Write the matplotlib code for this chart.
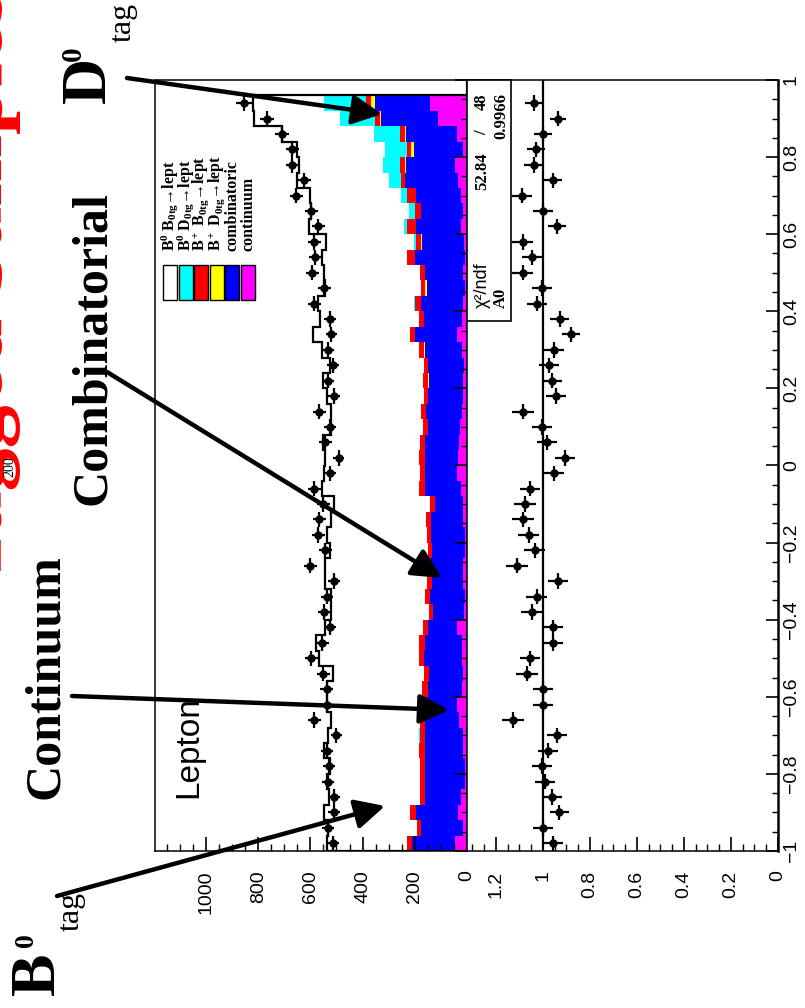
import numpy as np
import matplotlib
matplotlib.use("Agg")
import matplotlib.pyplot as plt
from matplotlib.patches import Rectangle, FancyArrowPatch
from matplotlib.ticker import MultipleLocator, FuncFormatter

W, H = 805, 1008

# cos(theta) binning: 50 bins from -1 to 1, the last one is empty
cos_lo, cos_hi, n_bins = -1.0, 1.0, 50

# stacked MC components per bin (bottom of stack first)
continuum = [46, 17, 36, 24, 8, 8, 17, 14, 30, 40,
             20, 14, 20, 20, 40, 10, 8, 14, 14, 8,
             8, 17, 14, 24, 40, 33, 31, 27, 20, 17,
             14, 10, 20, 37, 20, 17, 8, 14, 8, 10,
             23, 17, 23, 33, 46, 17, 40, 110, 142, 0]
combinatoric = [164, 158, 161, 138, 154, 151, 145, 145, 132, 122,
                131, 132, 144, 142, 109, 119, 134, 119, 141, 125,
                130, 121, 109, 138, 120, 127, 129, 124, 138, 132,
                132, 139, 142, 163, 144, 158, 147, 145, 192, 161,
                174, 158, 174, 205, 186, 187, 195, 219, 212, 0]
bplus_d0tag = [0, 0, 0, 0, 0, 0, 0, 0, 0, 0,
               0, 0, 0, 0, 0, 0, 0, 0, 0, 0,
               0, 0, 0, 0, 0, 0, 0, 0, 0, 0,
               5, 0, 2, 0, 0, 0, 6, 0, 0, 4,
               0, 0, 0, 0, 6, 9, 3, 6, 13, 0]
bplus_b0tag = [18, 16, 22, 19, 19, 22, 21, 22, 19, 23,
               21, 18, 19, 21, 19, 16, 20, 22, 19, 18,
               17, 20, 19, 21, 21, 23, 21, 17, 19, 15,
               17, 15, 21, 19, 21, 25, 16, 22, 28, 22,
               31, 25, 31, 16, 20, 15, 20, 19, 19, 0]
b0_d0tag = [0, 0, 0, 0, 0, 0, 0, 3, 0, 0,
            0, 0, 0, 0, 0, 0, 0, 0, 0, 0,
            0, 0, 0, 0, 0, 0, 0, 0, 0, 0,
            0, 0, 0, 0, 0, 3, 0, 0, 0, 6,
            13, 23, 26, 45, 64, 87, 100, 134, 160, 0]
b0_b0tag = [307, 340, 327, 348, 355, 344, 363, 348, 339, 353,
            366, 351, 382, 396, 377, 376, 359, 388, 371, 373,
            382, 363, 369, 371, 368, 360, 370, 353, 344, 374,
            384, 362, 372, 371, 379, 367, 367, 365, 327, 336,
            364, 373, 346, 352, 321, 335, 350, 329, 275, 0]

# data (first 49 bins) and data/MC ratio
data_counts = [512, 531, 508, 508, 531, 527, 535, 500, 585, 538,
               538, 550, 596, 554, 523, 546, 535, 508, 600, 542,
               569, 565, 550, 585, 523, 492, 542, 523, 565, 508,
               531, 512, 531, 519, 523, 585, 546, 592, 581, 585,
               569, 596, 654, 623, 669, 669, 708, 765, 854]
data_ratio = [0.957, 1.0, 0.93, 0.96, 0.99, 1.004, 0.98, 0.94, 1.128, 1.0,
              1.0, 1.068, 1.055, 0.957, 0.957, 1.047, 1.026, 0.936, 1.11, 1.034,
              1.06, 1.085, 1.077, 1.055, 0.953, 0.906, 0.983, 1.004, 1.085, 0.945,
              0.962, 0.974, 0.953, 0.88, 0.928, 1.026, 1.004, 1.085, 1.047, 1.085,
              0.94, 1.0, 1.09, 0.957, 1.04, 1.03, 1.0, 0.936, 1.04]

legend_labels = ["B$^0$ B$_{0tg}$\u2192lept",
                 "B$^0$ D$_{0tg}$\u2192lept",
                 "B$^+$ B$_{0tg}$\u2192lept",
                 "B$^+$ D$_{0tg}$\u2192lept",
                 "combinatoric", "continuum"]
legend_colors = ["white", "cyan", "red", "yellow", "blue", "magenta"]

chi2_txt, ndf_txt, a0_txt = "52.84", "48", "0.9966"

plt.rcParams["font.family"] = ["Liberation Sans", "DejaVu Sans"]
plt.rcParams["mathtext.fontset"] = "custom"
plt.rcParams["mathtext.rm"] = "Liberation Serif:bold"
plt.rcParams["mathtext.it"] = "Liberation Serif:bold"
plt.rcParams["mathtext.bf"] = "Liberation Serif:bold"
SERIF = ["Liberation Serif", "DejaVu Serif"]


def fx(px):
    return px / W


def fy(py):
    return 1 - py / H


fig = plt.figure(figsize=(W / 100, H / 100), dpi=100)
ax = fig.add_axes([fx(155), fy(851), (467 - 155) / W, (851 - 80) / H])
rx = fig.add_axes([fx(467), fy(851), (778 - 467) / W, (851 - 80) / H])

edges = np.linspace(cos_lo, cos_hi, n_bins + 1)
centers = 0.5 * (edges[:-1] + edges[1:])
bw = edges[1] - edges[0]

# stacked histogram, drawn sideways
stack = [(continuum, "magenta"), (combinatoric, "blue"), (bplus_d0tag, "yellow"),
         (bplus_b0tag, "red"), (b0_d0tag, "cyan"), (b0_b0tag, "white")]
left = np.zeros(n_bins)
for vals, col in stack:
    v = np.asarray(vals, float)
    ax.barh(edges[:-1], v, height=bw, left=left, align="edge", color=col,
            linewidth=0, antialiased=False, zorder=1)
    left += v
ax.stairs(left, edges, orientation="horizontal", color="k", lw=1.6, zorder=2)

d = np.asarray(data_counts, float)
nd = len(d)
ax.errorbar(d, centers[:nd], xerr=np.sqrt(d), yerr=bw / 2, fmt="o", color="k",
            ms=5, elinewidth=1.6, capsize=0, zorder=3)

r = np.asarray(data_ratio, float)
rx.axvline(1.0, color="k", lw=1.6, zorder=1)
rx.errorbar(r, centers[:nd], xerr=r / np.sqrt(d), yerr=bw / 2, fmt="o", color="k",
            ms=5, elinewidth=1.6, capsize=0, zorder=3)

ax.set_xlim(1195, 0)
rx.set_xlim(1.323, 0)


def fmt(v, pos):
    s = f"{round(v, 6) + 0.0:g}"
    return s.replace("-", "\u2212")


for a, major, minor in [(ax, 200, 50), (rx, 0.2, 0.05)]:
    a.set_ylim(cos_lo, cos_hi)
    a.xaxis.set_major_locator(MultipleLocator(major))
    a.xaxis.set_minor_locator(MultipleLocator(minor))
    a.xaxis.set_major_formatter(FuncFormatter(fmt))
    a.yaxis.set_major_locator(MultipleLocator(0.2))
    a.yaxis.set_minor_locator(MultipleLocator(0.05))
    a.yaxis.set_major_formatter(FuncFormatter(fmt))
    a.tick_params(axis="x", which="both", direction="in", bottom=True, top=False,
                  labelsize=14, pad=14, labelrotation=90)
    a.tick_params(axis="x", which="major", length=10, width=1.2)
    a.tick_params(axis="x", which="minor", length=5, width=1.0)
    a.tick_params(axis="y", which="both", direction="in", left=False, right=True,
                  labelleft=False, labelright=False)
    a.tick_params(axis="y", which="major", length=9, width=1.2)
    a.tick_params(axis="y", which="minor", length=4.5, width=1.0)
    for sp in a.spines.values():
        sp.set_linewidth(1.1)

rx.tick_params(axis="y", which="major", labelright=True, labelsize=14, pad=3.5,
               labelrotation=90)
plt.setp(rx.get_yticklabels(), va="center")
rx.spines["right"].set_linewidth(1.8)

# stats box
fig.add_artist(Rectangle((fx(467), fy(321)), (511 - 467) / W, (321 - 80) / H,
                         transform=fig.transFigure, facecolor="white",
                         edgecolor="k", lw=1.2, zorder=5))
fig.text(fx(482), fy(308), "\u03c7\u00b2/ndf", rotation=90, ha="center", va="bottom",
         fontsize=13, zorder=6)
fig.text(fx(482), fy(152), chi2_txt, rotation=90, ha="center", va="top",
         fontsize=12, fontweight="bold", family=SERIF, zorder=6)
fig.text(fx(482), fy(133), "/", rotation=90, ha="center", va="center",
         fontsize=12, fontweight="bold", family=SERIF, zorder=6)
fig.text(fx(482), fy(93), ndf_txt, rotation=90, ha="center", va="top",
         fontsize=12, fontweight="bold", family=SERIF, zorder=6)
fig.text(fx(501), fy(308), "A0", rotation=90, ha="center", va="bottom",
         fontsize=12, fontweight="bold", family=SERIF, zorder=6)
fig.text(fx(501), fy(93), a0_txt, rotation=90, ha="center", va="top",
         fontsize=12, fontweight="bold", family=SERIF, zorder=6)

# legend
box_x = [163, 179, 194, 210, 225, 241]
for bx, col, lab in zip(box_x, legend_colors, legend_labels):
    fig.add_artist(Rectangle((fx(bx), fy(300)), 14 / W, 35 / H,
                             transform=fig.transFigure, facecolor=col,
                             edgecolor="k", lw=1.0, zorder=5))
    fig.text(fx(bx + 7), fy(251), lab, rotation=90, ha="center", va="bottom",
             fontsize=11.5, fontweight="bold", family=SERIF, zorder=6)

fig.text(fx(189), fy(747), "Lepton", rotation=90, ha="center", va="center",
         fontsize=24, zorder=6)

# slide annotations
fig.text(fx(21), fy(583), "Tagged Samples", rotation=90, ha="right", va="bottom",
         color="red", fontsize=62, fontweight="bold", family=SERIF, zorder=7)
fig.text(fx(10), fy(467), "200", rotation=90, ha="center", va="center",
         fontsize=10, family=SERIF, zorder=8)
fig.text(fx(93), fy(348), "Combinatorial", rotation=90, ha="center", va="center",
         fontsize=36, fontweight="bold", family=SERIF, zorder=7)
fig.text(fx(46), fy(677), "Continuum", rotation=90, ha="center", va="center",
         fontsize=36, fontweight="bold", family=SERIF, zorder=7)
fig.text(fx(90), fy(80), "D", rotation=90, ha="center", va="center",
         fontsize=46, fontweight="bold", family=SERIF, zorder=7)
fig.text(fx(73), fy(54), "0", rotation=90, ha="center", va="center",
         fontsize=21, fontweight="bold", family=SERIF, zorder=7)
fig.text(fx(123), fy(22), "tag", rotation=90, ha="center", va="center",
         fontsize=23, family=SERIF, zorder=7)
fig.text(fx(39), fy(974), "B", rotation=90, ha="center", va="center",
         fontsize=46, fontweight="bold", family=SERIF, zorder=7)
fig.text(fx(26), fy(940), "0", rotation=90, ha="center", va="center",
         fontsize=20, fontweight="bold", family=SERIF, zorder=7)
fig.text(fx(71), fy(911), "tag", rotation=90, ha="center", va="center",
         fontsize=23, family=SERIF, zorder=7)


def arrow(p0, p1):
    fig.add_artist(FancyArrowPatch((fx(p0[0]), fy(p0[1])), (fx(p1[0]), fy(p1[1])),
                                   transform=fig.transFigure,
                                   arrowstyle="-|>,head_length=0.9,head_width=0.45",
                                   mutation_scale=20, lw=3.2, color="k",
                                   shrinkA=0, shrinkB=0, zorder=10))


arrow((127, 78), (382, 114))
arrow((107, 372), (442, 578))
arrow((72, 696), (449, 710))
arrow((57, 896), (385, 806))

fig.savefig("out.png", dpi=100)
